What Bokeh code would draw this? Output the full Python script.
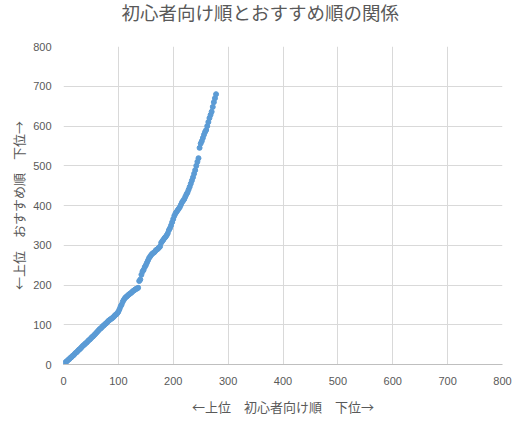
from bokeh.plotting import figure
from bokeh.models import Range1d, FixedTicker, ColumnDataSource
from bokeh.embed import file_html
from bokeh.resources import INLINE

title_text = "初心者向け順とおすすめ順の関係"
x_label = "←上位　初心者向け順　下位→"
y_label = "←上位　おすすめ順　下位→"
tick_values = [0, 100, 200, 300, 400, 500, 600, 700, 800]

beginner_rank = [
    0, 2, 4, 6, 8, 10, 12, 14, 16, 18, 20, 22, 24, 26, 28, 30, 32, 34, 36, 38,
    40, 42, 44, 46, 48, 50, 52, 54, 56, 58, 60, 62, 64, 66, 68, 70, 72, 74, 76, 78,
    80, 82, 84, 86, 88, 90, 92, 94, 96, 98, 100, 102, 104, 106, 108, 110, 112, 114, 116, 118,
    120, 122, 124, 126, 128, 130, 132, 134, 136, 138, 140, 142, 144, 146, 148, 150, 152, 154, 156, 158,
    160, 162, 164, 166, 168, 170, 172, 174, 176, 178, 180, 182, 184, 186, 188, 190, 192, 194, 196, 198,
    200, 202, 204, 206, 208, 210, 212, 214, 216, 218, 220, 222, 224, 226, 228, 230, 232, 234, 236, 238,
    240, 242, 244, 246, 248, 250, 252, 254, 256, 258, 260, 262, 264, 266, 268, 270, 272, 274, 276, 278,
]
recommend_rank = [
    2, 4, 6, 8, 11, 13, 16, 18, 21, 23, 26, 29, 31, 34, 37, 39, 42, 45, 48, 50,
    53, 55, 58, 61, 63, 66, 69, 71, 74, 77, 80, 83, 86, 89, 91, 94, 97, 99, 102, 104,
    107, 110, 112, 114, 116, 118, 121, 124, 126, 129, 133, 139, 146, 151, 158, 163, 167, 170, 172, 175,
    177, 179, 181, 184, 186, 188, 190, 191, 193, 210, 214, 226, 234, 238, 245, 250, 256, 262, 268, 272,
    276, 279, 281, 283, 287, 289, 291, 294, 297, 306, 310, 314, 318, 321, 325, 330, 338, 343, 350, 358,
    366, 374, 380, 384, 388, 392, 396, 402, 408, 412, 416, 422, 428, 433, 440, 447, 455, 463, 471, 480,
    489, 500, 510, 519, 545, 556, 562, 570, 578, 585, 590, 600, 610, 620, 628, 636, 648, 660, 670, 680,
]

source = ColumnDataSource(data=dict(x=beginner_rank, y=recommend_rank))

TEXT = "#595959"
GRID = "#D9D9D9"

p = figure(width=514, height=418, output_backend="svg", toolbar_location=None,
           x_range=Range1d(0, 800), y_range=Range1d(0, 800),
           min_border_left=63, min_border_right=12, min_border_top=46, min_border_bottom=52)

p.title.text = title_text + "\n "
p.title.align = "left"
p.title.offset = 58
p.title.standoff = -8
p.title.text_font = "Noto Sans CJK JP"
p.title.text_font_size = "18.5px"
p.title.text_font_style = "normal"
p.title.text_color = TEXT

p.outline_line_color = None
p.background_fill_color = "white"
p.border_fill_color = "white"

for ax in (p.xaxis[0], p.yaxis[0]):
    ax.ticker = FixedTicker(ticks=tick_values)
    ax.major_tick_line_color = None
    ax.minor_tick_line_color = None
    ax.major_label_text_font = "Liberation Sans"
    ax.major_label_text_font_size = "11px"
    ax.major_label_text_color = TEXT
    ax.axis_label_text_font = "Noto Sans CJK JP"
    ax.axis_label_text_font_size = "13px"
    ax.axis_label_text_font_style = "normal"
    ax.axis_label_text_color = TEXT

p.xaxis.axis_label = x_label
p.yaxis.axis_label = y_label
p.xaxis.axis_line_color = "#BFBFBF"
p.yaxis.axis_line_color = None
p.xaxis.major_label_standoff = 6
p.xaxis.axis_label_standoff = 9
p.yaxis.major_label_standoff = 6
p.yaxis.axis_label_standoff = 2

p.xgrid.ticker = FixedTicker(ticks=tick_values)
p.ygrid.ticker = FixedTicker(ticks=tick_values)
p.xgrid.grid_line_color = GRID
p.ygrid.grid_line_color = GRID

p.scatter("x", "y", source=source, size=5, fill_color="#5B9BD5", line_color="#5B9BD5")

open("out.html", "w").write(file_html(p, INLINE))
